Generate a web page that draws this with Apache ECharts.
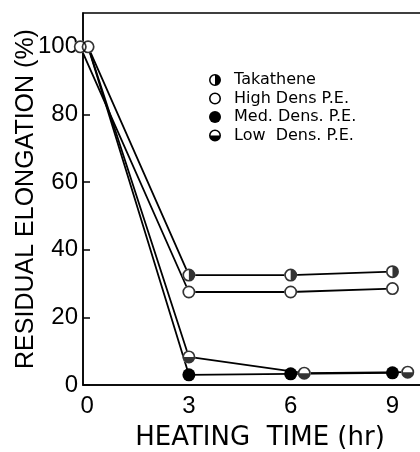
<!DOCTYPE html>
<html>
<head>
<meta charset="utf-8">
<script src="https://cdn.jsdelivr.net/npm/echarts@6/dist/echarts.min.js"></script>
<style>
  html, body { margin: 0; padding: 0; background: #fff; }
  #chart { width: 420px; height: 452px; }
</style>
</head>
<body>
<div id="chart"></div>
<script>
// values
const xTicks = [0, 3, 6, 9];
const yTicks = [0, 20, 40, 60, 80, 100];

const takatheneHours = [0.03, 3, 6, 9];
const takathene = [100, 32.5, 32.5, 33.5];
const highDensHours = [-0.2, 3, 6, 9];
const highDens = [100, 27.5, 27.5, 28.5];
const medDensHours = [0.03, 3, 6, 9];
const medDens = [100, 3, 3.3, 3.6];
const lowDensHours = [0.03, 3, 6.4, 9.45];
const lowDens = [100, 8.3, 3.5, 3.8];

// marker shapes (20x20 box)
const ring = 'M0,10 A10,10 0 1,1 20,10 A10,10 0 1,1 0,10 Z M2.6,10 A7.4,7.4 0 1,0 17.4,10 A7.4,7.4 0 1,0 2.6,10 Z';
const rightHalf = ring + ' M10,2.6 A7.4,7.4 0 0,1 10,17.4 Z';
const bottomHalf = ring + ' M2.6,10 A7.4,7.4 0 0,0 17.4,10 Z';

const sym = 13;
const pairs = (xs, ys) => xs.map((x, i) => [x, ys[i]]);

function lineSeries(name, xs, ys, fill, hideFirst) {
  return {
    name: name,
    type: 'line',
    z: 2,
    clip: false,
    symbol: 'circle',
    symbolSize: sym,
    showAllSymbol: true,
    lineStyle: { color: '#000', width: 1.8 },
    itemStyle: { color: fill, borderWidth: 0 },
    data: pairs(xs, ys).map((p, i) =>
      (hideFirst && i === 0) ? { value: p, symbolSize: 0 } : p)
  };
}

function overlay(name, xs, ys, path, firstPath, skipFirst) {
  const d = [];
  pairs(xs, ys).forEach((p, i) => {
    if (i === 0 && skipFirst) return;
    if (i === 0 && firstPath) d.push({ value: p, symbol: 'path://' + firstPath });
    else d.push(p);
  });
  return {
    name: name + ' mk',
    type: 'scatter',
    z: 3,
    clip: false,
    symbol: 'path://' + path,
    symbolSize: sym,
    itemStyle: { color: '#000' },
    data: d
  };
}

const chart = echarts.init(document.getElementById('chart'), null, { renderer: 'canvas' });

chart.setOption({
  animation: false,
  backgroundColor: '#fff',
  grid: {
    left: 83, right: -3, top: 13, bottom: 67,
    outerBoundsMode: 'none',
    containLabel: false,
    show: true, borderColor: '#000', borderWidth: 1.5, backgroundColor: 'transparent'
  },
  legend: {
    orient: 'vertical',
    left: 204,
    top: 67,
    itemWidth: 12,
    itemHeight: 12,
    itemGap: 2.5,
    textStyle: {
      fontFamily: 'DejaVu Sans', fontSize: 16, color: '#000',
      padding: [0, 0, 0, 8]
    },
    data: [
      { name: 'Takathene', icon: 'path://' + rightHalf, itemStyle: { color: '#000', borderWidth: 0 } },
      { name: 'High Dens P.E.', icon: 'path://' + ring, itemStyle: { color: '#000', borderWidth: 0 } },
      { name: 'Med. Dens. P.E.', icon: 'circle', itemStyle: { color: '#000', borderWidth: 0 } },
      { name: 'Low  Dens. P.E.', icon: 'path://' + bottomHalf, itemStyle: { color: '#000', borderWidth: 0 } }
    ]
  },
  xAxis: {
    type: 'value',
    min: -0.12,
    max: 9.9,
    name: 'HEATING  TIME (hr)',
    nameLocation: 'middle',
    nameGap: 40,
    nameTextStyle: { fontFamily: 'DejaVu Sans', fontSize: 26, color: '#000', padding: [0, 0, 0, 14] },
    axisLine: { onZero: false, lineStyle: { color: '#000', width: 1.5 } },
    axisTick: { show: false },
    splitLine: { show: false },
    axisLabel: {
      customValues: xTicks,
      margin: 9,
      fontFamily: 'Liberation Sans', fontSize: 24, color: '#000'
    }
  },
  yAxis: {
    type: 'value',
    min: 0,
    max: 110,
    name: 'RESIDUAL ELONGATION (%)',
    nameLocation: 'middle',
    nameGap: 44,
    nameMoveOverlap: false,
    nameTextStyle: { fontFamily: 'Liberation Sans', fontSize: 25, color: '#000' },
    axisLine: { onZero: false, lineStyle: { color: '#000', width: 1.5 } },
    axisTick: { inside: true, length: 7, customValues: yTicks, lineStyle: { color: '#000', width: 1.5 } },
    splitLine: { show: false },
    axisLabel: {
      customValues: yTicks,
      margin: 5,
      fontFamily: 'Liberation Sans', fontSize: 24, color: '#000'
    }
  },
  series: [
    lineSeries('Takathene', takatheneHours, takathene, '#fff', false),
    lineSeries('High Dens P.E.', highDensHours, highDens, '#fff', false),
    lineSeries('Med. Dens. P.E.', medDensHours, medDens, '#000', true),
    lineSeries('Low  Dens. P.E.', lowDensHours, lowDens, '#fff', true),
    overlay('Takathene', takatheneHours, takathene, rightHalf, ring, false),
    overlay('High Dens P.E.', highDensHours, highDens, ring, null, false),
    overlay('Low  Dens. P.E.', lowDensHours, lowDens, bottomHalf, null, true)
  ]
});
</script>
</body>
</html>
